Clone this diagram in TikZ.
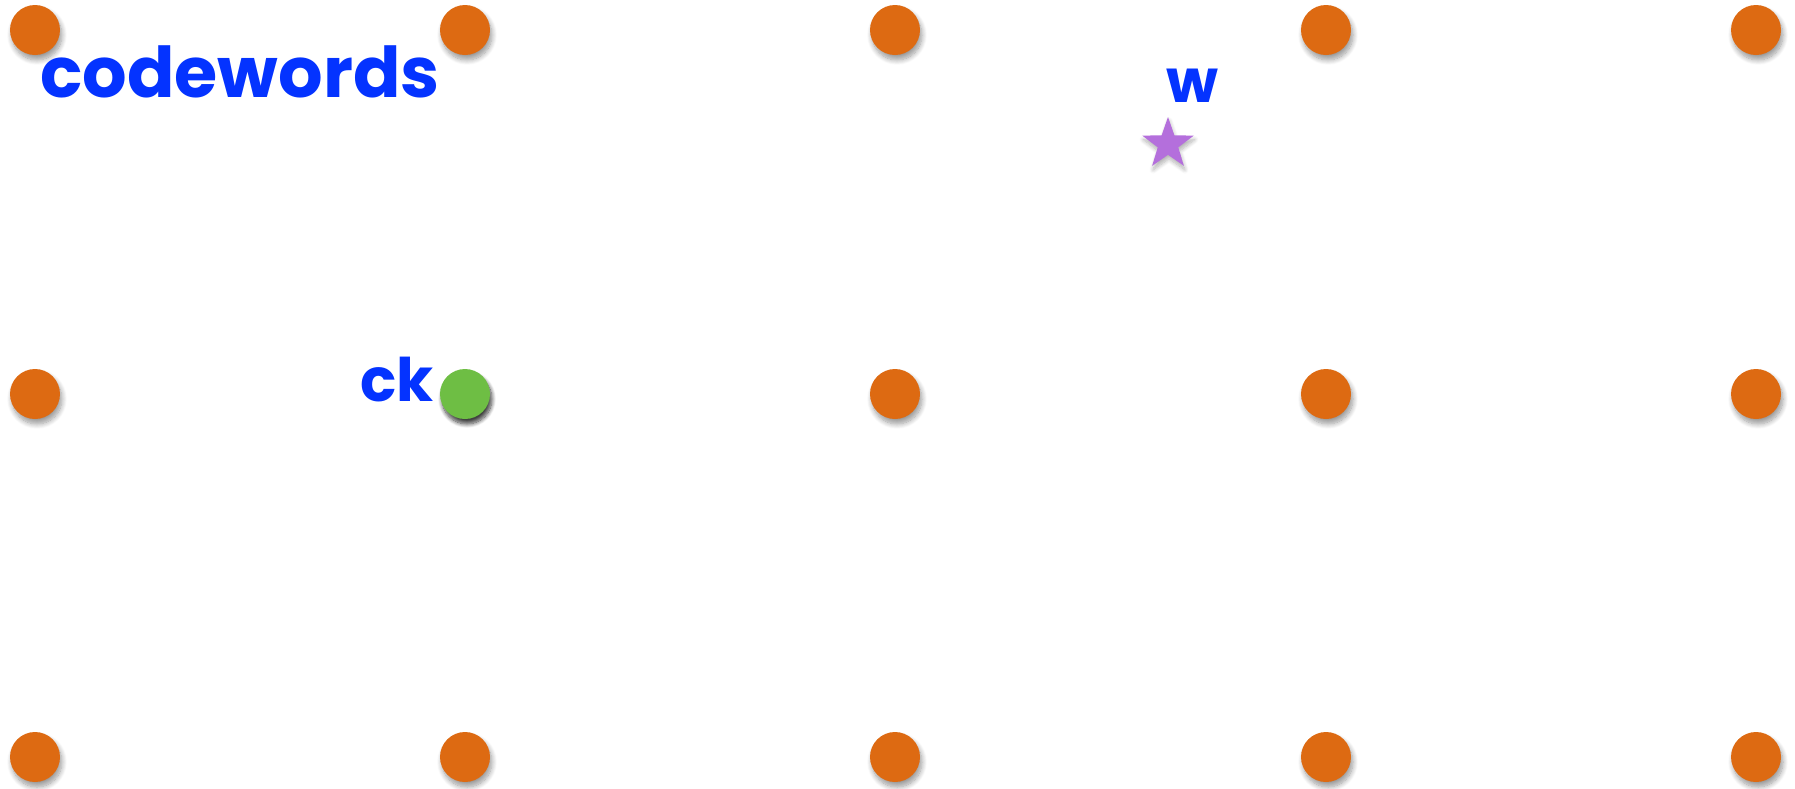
\documentclass[tikz,border=0pt]{standalone}
\usepackage{fontspec}
\setmainfont{Poppins}
\usetikzlibrary{shadows,shadows.blur,shapes.geometric}
\definecolor{dotorange}{HTML}{DD6A12}
\definecolor{dotgreen}{HTML}{6EBE44}
\definecolor{starpurple}{HTML}{B46FDC}
\definecolor{inkblue}{HTML}{0433FF}
\tikzset{
  dot/.style={circle, minimum size=50pt, inner sep=0pt, fill=dotorange,
    blur shadow={shadow xshift=2pt, shadow yshift=-5pt, shadow blur steps=10, shadow blur radius=5pt, shadow opacity=40}},
  gdot/.style={circle, minimum size=50pt, inner sep=0pt, fill=dotgreen,
    blur shadow={shadow xshift=2pt, shadow yshift=-5pt, shadow blur steps=10, shadow blur radius=4pt, shadow opacity=75}},
  lbl/.style={text=inkblue, inner sep=0pt, font=\bfseries\fontsize{70}{72}\selectfont},
}
\begin{document}
\begin{tikzpicture}[x=1pt,y=-1pt]
\useasboundingbox (0,0) rectangle (1795,788);
\foreach \i/\x in {1/35,2/465,3/895,4/1326,5/1756}{
  \foreach \j/\y in {1/30,3/757}{
    \node[dot] (d\i\j) at (\x,\y) {};
  }
}
\foreach \i/\x in {1/35,3/895,4/1326,5/1756}{
  \node[dot] (d\i2) at (\x,394) {};
}
\node[gdot] (ck) at (465,394) {};
\node[star, star points=5, star point ratio=2.5, minimum size=54pt, inner sep=0pt, fill=starpurple,
  blur shadow={shadow xshift=1pt, shadow yshift=-4pt, shadow blur steps=8, shadow blur radius=4pt, shadow opacity=30}] (w) at (1168,144) {};
\node[lbl, anchor=center] (codewords) at (240,72) {codewords};
\node[lbl, anchor=center, font=\bfseries\fontsize{60}{62}\selectfont] (cklbl) at (397,380) {ck};
\node[lbl, anchor=center, font=\bfseries\fontsize{60}{62}\selectfont] (wlbl) at (1192,86) {w};
\end{tikzpicture}
\end{document}
